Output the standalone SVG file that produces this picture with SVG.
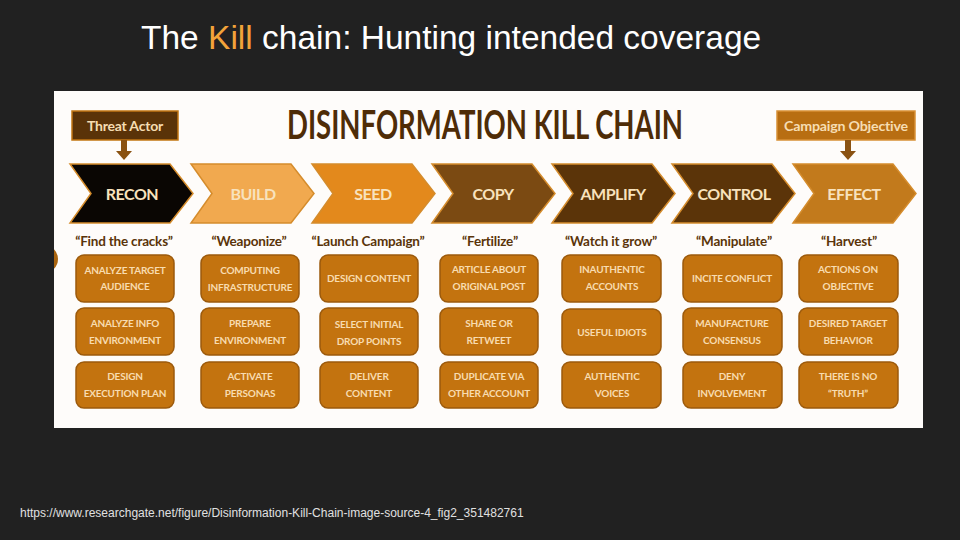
<svg xmlns="http://www.w3.org/2000/svg" width="960" height="540" viewBox="0 0 960 540">
  <defs>
    <style>
      .title { font-family: "Liberation Sans", Arial, sans-serif; font-size: 33.5px; fill: #ffffff; }
      .kill { fill: #f2a33a; }
      .src { font-family: "Liberation Sans", Arial, sans-serif; font-size: 12px; fill: #e0e0e0; }
      .narrow { font-family: Lato, "Liberation Sans", sans-serif; font-weight: bold; }
      .heading { font-size: 40px; fill: #4e2c07; }
      .tag { font-size: 14px; fill: #f6ddb2; text-anchor: middle; letter-spacing: -0.2px; }
      .stage { font-size: 16px; fill: #f8e2bd; text-anchor: middle; letter-spacing: -0.5px; }
      .quote { font-size: 13.5px; fill: #5a3409; text-anchor: middle; letter-spacing: -0.2px; }
      .box { fill: #c3730f; stroke: #9c5a0c; stroke-width: 1.5; }
      .btxt { font-size: 10px; fill: #f8dcb0; text-anchor: middle; letter-spacing: -0.2px; }
      .chev { stroke: #d58c2c; stroke-width: 1.5; stroke-linejoin: miter; }
    </style>
    <clipPath id="panelClip">
      <rect x="54" y="91" width="869" height="337"/>
    </clipPath>
  </defs>

  <!-- slide background -->
  <rect x="0" y="0" width="960" height="540" fill="#212121"/>

  <!-- slide title -->
  <text class="title" x="141" y="49">The <tspan class="kill">Kill</tspan> chain: Hunting intended coverage</text>

  <!-- figure panel -->
  <rect x="54" y="91" width="869" height="337" fill="#fefcfa"/>
  <circle cx="44" cy="259" r="14" fill="#a9640f" clip-path="url(#panelClip)"/>

  <text class="narrow heading" transform="translate(287,139) scale(0.75,1)" x="0" y="0" textLength="528" lengthAdjust="spacingAndGlyphs">DISINFORMATION KILL CHAIN</text>

  <!-- inputs -->
  <g id="threat-actor">
    <rect x="72" y="111" width="106" height="29" fill="#5a3308" stroke="#c27612" stroke-width="1.5"/>
    <text class="narrow tag" x="125" y="130.5">Threat Actor</text>
  </g>
  <g id="campaign-objective">
    <rect x="777" y="111" width="138" height="29" fill="#b86e12" stroke="#d89036" stroke-width="1.5"/>
    <text class="narrow tag" x="846" y="130.5" textLength="124" lengthAdjust="spacingAndGlyphs">Campaign Objective</text>
  </g>

  <!-- connectors -->
  <g id="connectors">
    <polygon points="121,140 127,140 127,151 132,151 124,160 116,151 121,151" fill="#8a5212"/>
    <polygon points="845,140 851,140 851,151 856,151 848,160 840,151 845,151" fill="#8a5212"/>
  </g>

  <!-- stages -->
  <g id="recon">
    <path class="chev" d="M70,164 H170 L193,193.5 L170,223 H70 L91,193.5 Z" fill="#0a0603"/>
    <text class="narrow stage" x="132" y="200">RECON</text>
  </g>
  <g id="build">
    <path class="chev" d="M191,164 H291 L314,193.5 L291,223 H191 L212,193.5 Z" fill="#f1a94f"/>
    <text class="narrow stage" x="253" y="200">BUILD</text>
  </g>
  <g id="seed">
    <path class="chev" d="M312,164 H412 L435,193.5 L412,223 H312 L333,193.5 Z" fill="#e3891c"/>
    <text class="narrow stage" x="373" y="200">SEED</text>
  </g>
  <g id="copy">
    <path class="chev" d="M432,164 H532 L555,193.5 L532,223 H432 L453,193.5 Z" fill="#7b4a12"/>
    <text class="narrow stage" x="493" y="200">COPY</text>
  </g>
  <g id="amplify">
    <path class="chev" d="M552,164 H652 L675,193.5 L652,223 H552 L573,193.5 Z" fill="#5b3409"/>
    <text class="narrow stage" x="613" y="200">AMPLIFY</text>
  </g>
  <g id="control">
    <path class="chev" d="M672,164 H772 L795,193.5 L772,223 H672 L693,193.5 Z" fill="#5b3409"/>
    <text class="narrow stage" x="734" y="200">CONTROL</text>
  </g>
  <g id="effect">
    <path class="chev" d="M793,164 H893 L916,193.5 L893,223 H793 L814,193.5 Z" fill="#c27a1c"/>
    <text class="narrow stage" x="854" y="200">EFFECT</text>
  </g>

  <!-- stage mottos -->
  <g id="mottos">
    <text class="narrow quote" x="124" y="246">&#8220;Find the cracks&#8221;</text>
    <text class="narrow quote" x="249" y="246">&#8220;Weaponize&#8221;</text>
    <text class="narrow quote" x="368" y="246">&#8220;Launch Campaign&#8221;</text>
    <text class="narrow quote" x="490" y="246">&#8220;Fertilize&#8221;</text>
    <text class="narrow quote" x="611" y="246">&#8220;Watch it grow&#8221;</text>
    <text class="narrow quote" x="734" y="246">&#8220;Manipulate&#8221;</text>
    <text class="narrow quote" x="849" y="246">&#8220;Harvest&#8221;</text>
  </g>

  <!-- RECON tactics -->
  <g id="analyze-target-audience">
    <rect class="box" x="76" y="255" width="98" height="47" rx="8"/>
    <text class="narrow btxt" x="125" y="274">ANALYZE TARGET</text>
    <text class="narrow btxt" x="125" y="290">AUDIENCE</text>
  </g>
  <g id="analyze-info-environment">
    <rect class="box" x="76" y="308" width="98" height="47" rx="8"/>
    <text class="narrow btxt" x="125" y="327">ANALYZE INFO</text>
    <text class="narrow btxt" x="125" y="344">ENVIRONMENT</text>
  </g>
  <g id="design-execution-plan">
    <rect class="box" x="76" y="362" width="98" height="46" rx="8"/>
    <text class="narrow btxt" x="125" y="380">DESIGN</text>
    <text class="narrow btxt" x="125" y="397">EXECUTION PLAN</text>
  </g>

  <!-- BUILD tactics -->
  <g id="computing-infrastructure">
    <rect class="box" x="201" y="255" width="98" height="47" rx="8"/>
    <text class="narrow btxt" x="250" y="274">COMPUTING</text>
    <text class="narrow btxt" x="250" y="291">INFRASTRUCTURE</text>
  </g>
  <g id="prepare-environment">
    <rect class="box" x="201" y="308" width="98" height="47" rx="8"/>
    <text class="narrow btxt" x="250" y="327">PREPARE</text>
    <text class="narrow btxt" x="250" y="344">ENVIRONMENT</text>
  </g>
  <g id="activate-personas">
    <rect class="box" x="201" y="362" width="98" height="46" rx="8"/>
    <text class="narrow btxt" x="250" y="380">ACTIVATE</text>
    <text class="narrow btxt" x="250" y="397">PERSONAS</text>
  </g>

  <!-- SEED tactics -->
  <g id="design-content">
    <rect class="box" x="320" y="255" width="98" height="47" rx="8"/>
    <text class="narrow btxt" x="369" y="282">DESIGN CONTENT</text>
  </g>
  <g id="select-initial-drop-points">
    <rect class="box" x="320" y="308" width="98" height="47" rx="8"/>
    <text class="narrow btxt" x="369" y="328">SELECT INITIAL</text>
    <text class="narrow btxt" x="369" y="345">DROP POINTS</text>
  </g>
  <g id="deliver-content">
    <rect class="box" x="320" y="362" width="98" height="46" rx="8"/>
    <text class="narrow btxt" x="369" y="380">DELIVER</text>
    <text class="narrow btxt" x="369" y="397">CONTENT</text>
  </g>

  <!-- COPY tactics -->
  <g id="article-about-original-post">
    <rect class="box" x="440" y="255" width="98" height="47" rx="8"/>
    <text class="narrow btxt" x="489" y="273">ARTICLE ABOUT</text>
    <text class="narrow btxt" x="489" y="290">ORIGINAL POST</text>
  </g>
  <g id="share-or-retweet">
    <rect class="box" x="440" y="308" width="98" height="47" rx="8"/>
    <text class="narrow btxt" x="489" y="327">SHARE OR</text>
    <text class="narrow btxt" x="489" y="344">RETWEET</text>
  </g>
  <g id="duplicate-via-other-account">
    <rect class="box" x="440" y="362" width="98" height="46" rx="8"/>
    <text class="narrow btxt" x="489" y="380">DUPLICATE VIA</text>
    <text class="narrow btxt" x="489" y="397">OTHER ACCOUNT</text>
  </g>

  <!-- AMPLIFY tactics -->
  <g id="inauthentic-accounts">
    <rect class="box" x="562" y="255" width="99" height="47" rx="8"/>
    <text class="narrow btxt" x="612" y="273">INAUTHENTIC</text>
    <text class="narrow btxt" x="612" y="290">ACCOUNTS</text>
  </g>
  <g id="useful-idiots">
    <rect class="box" x="562" y="309" width="99" height="46" rx="8"/>
    <text class="narrow btxt" x="612" y="336">USEFUL IDIOTS</text>
  </g>
  <g id="authentic-voices">
    <rect class="box" x="562" y="362" width="99" height="46" rx="8"/>
    <text class="narrow btxt" x="612" y="380">AUTHENTIC</text>
    <text class="narrow btxt" x="612" y="397">VOICES</text>
  </g>

  <!-- CONTROL tactics -->
  <g id="incite-conflict">
    <rect class="box" x="683" y="255" width="99" height="47" rx="8"/>
    <text class="narrow btxt" x="732" y="282">INCITE CONFLICT</text>
  </g>
  <g id="manufacture-consensus">
    <rect class="box" x="683" y="308" width="99" height="47" rx="8"/>
    <text class="narrow btxt" x="732" y="327">MANUFACTURE</text>
    <text class="narrow btxt" x="732" y="344">CONSENSUS</text>
  </g>
  <g id="deny-involvement">
    <rect class="box" x="683" y="362" width="99" height="46" rx="8"/>
    <text class="narrow btxt" x="732" y="380">DENY</text>
    <text class="narrow btxt" x="732" y="397">INVOLVEMENT</text>
  </g>

  <!-- EFFECT tactics -->
  <g id="actions-on-objective">
    <rect class="box" x="799" y="255" width="99" height="47" rx="8"/>
    <text class="narrow btxt" x="848" y="273">ACTIONS ON</text>
    <text class="narrow btxt" x="848" y="290">OBJECTIVE</text>
  </g>
  <g id="desired-target-behavior">
    <rect class="box" x="799" y="308" width="99" height="47" rx="8"/>
    <text class="narrow btxt" x="848" y="327">DESIRED TARGET</text>
    <text class="narrow btxt" x="848" y="344">BEHAVIOR</text>
  </g>
  <g id="there-is-no-truth">
    <rect class="box" x="799" y="362" width="99" height="46" rx="8"/>
    <text class="narrow btxt" x="848" y="380">THERE IS NO</text>
    <text class="narrow btxt" x="848" y="397">&#8220;TRUTH&#8221;</text>
  </g>

  <!-- source line -->
  <text class="src" x="20" y="517">https://www.researchgate.net/figure/Disinformation-Kill-Chain-image-source-4_fig2_351482761</text>
</svg>
